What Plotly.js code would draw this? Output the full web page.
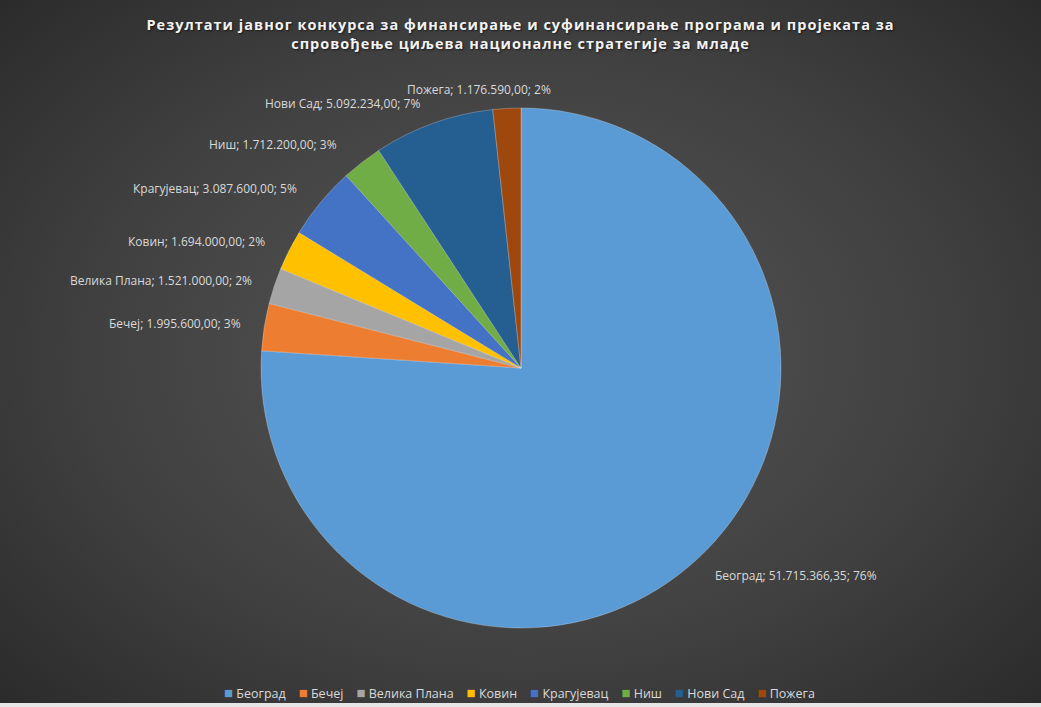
<!DOCTYPE html>
<html>
<head>
<meta charset="utf-8">
<script src="https://cdn.plot.ly/plotly-3.0.1.min.js"></script>
<style>
html,body{margin:0;padding:0;background:#e6e6e6;}
#wrap{width:1041px;height:703px;background:radial-gradient(ellipse 75% 80% at 50% 50%, #575757 0%, #404040 55%, #262626 100%);overflow:hidden;}
#chart{width:1041px;height:707px;}
.gtitle{letter-spacing:1px;}
</style>
</head>
<body>
<div id="wrap"><div id="chart"></div></div>
<script>
const cities = ["Београд","Бечеј","Велика Плана","Ковин","Крагујевац","Ниш","Нови Сад","Пожега"];
const amounts = [51715366.35,1995600,1521000,1694000,3087600,1712200,5092234,1176590];
const colors = ["#5b9bd5","#ed7d31","#a5a5a5","#ffc000","#4472c4","#70ad47","#255e91","#9e480e"];
const titleText = "Резултати јавног конкурса за финансирање и суфинансирање програма и пројеката за<br>спровођење циљева националне стратегије за младе";

// label anchor positions in pixels (left edge, center y)
const labelPos = [[713,575],[107,323],[68,280],[126,241],[131,188],[207,145],[263,103],[405,89]];

function fmt(v){
  const parts = v.toFixed(2).split('.');
  const int = parts[0].replace(/\B(?=(\d{3})+(?!\d))/g,'.');
  return int + ',' + parts[1];
}
const total = amounts.reduce((a,b)=>a+b,0);
const W=1041,H=707;
const annotations = cities.map((c,i)=>({
  text: c + '; ' + fmt(amounts[i]) + '; ' + Math.round(amounts[i]/total*100) + '%',
  x: labelPos[i][0]/W, y: 1-labelPos[i][1]/H, xref:'paper', yref:'paper',
  xanchor:'left', yanchor:'middle', showarrow:false,
  font:{family:'Open Sans, Roboto, sans-serif', size:12, color:'#d9d9d9'}
}));
// legend row built from the same category/colour arrays
const legendText = cities.map((c,i)=>'<span style="color:'+colors[i]+';font-size:15px">■</span>&nbsp;'+c).join('&nbsp;&nbsp;&nbsp;&nbsp;');
annotations.push({
  text: legendText, x: 519/W, y: 1-692/H, xref:'paper', yref:'paper',
  xanchor:'center', yanchor:'middle', showarrow:false,
  font:{family:'Open Sans, Roboto, sans-serif', size:12.5, color:'#d9d9d9'}
});

const cx=521, cy=368, r=260;
const data=[{
  type:'pie',
  labels:cities, values:amounts,
  sort:false, direction:'clockwise', rotation:0,
  marker:{colors:colors, line:{color:'rgba(255,255,255,0.35)', width:0.7}},
  textinfo:'none', hoverinfo:'label+value+percent',
  domain:{x:[(cx-r)/W,(cx+r)/W], y:[(H-cy-r)/H,(H-cy+r)/H]}
}];
const layout={
  width:W, height:H,
  margin:{l:0,r:0,t:0,b:0},
  paper_bgcolor:'rgba(0,0,0,0)', plot_bgcolor:'rgba(0,0,0,0)',
  title:{text:titleText, x:0.5, xanchor:'center', y:1-30/H, yanchor:'middle',
    font:{family:'Open Sans, sans-serif', size:14.5, color:'#f2f2f2', weight:'bold', shadow:'1px 1px 2px rgba(0,0,0,0.6)'}},
  showlegend:false,
  annotations:annotations
};
Plotly.newPlot('chart', data, layout, {displayModeBar:false, staticPlot:true});
</script>
</body>
</html>
